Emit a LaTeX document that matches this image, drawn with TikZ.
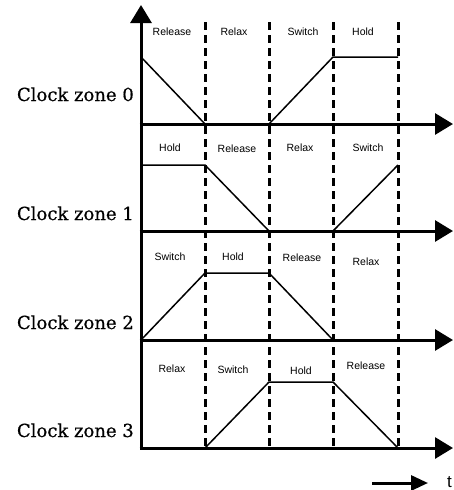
\documentclass[tikz,border=0pt]{standalone}
\usepackage{fontspec}
\setmainfont{DejaVu Serif}
\newfontfamily\lblfont{Liberation Sans}
\newfontfamily\zonefont{DejaVu Serif}[FakeBold=0.6]
\usetikzlibrary{arrows.meta}
\begin{document}
\begin{tikzpicture}[x=1pt,y=-1pt,
  axis/.style={line width=3pt,-{Triangle[length=18pt,width=21pt]}},
  divider/.style={line width=3pt,dash pattern=on 8pt off 5pt},
  signal/.style={line width=1.5pt,line join=miter},
  phase/.style={font=\lblfont\fontsize{10.5}{12}\selectfont,inner sep=0pt},
  zone/.style={font=\zonefont\fontsize{18}{20}\selectfont,anchor=base east,inner sep=0pt}]
\useasboundingbox (0,0) rectangle (453,490);
% dividers
\foreach \x [count=\i] in {205,269,333,398}{
  \coordinate (d\i t) at (\x,22);
  \coordinate (d\i b) at (\x,448);
  \draw[divider] (d\i t) -- (d\i b);
}
% axes
\coordinate (o) at (141,449.5);
\coordinate (ytip) at (141,5);
\draw[axis] (o) -- (ytip);
\foreach \y [count=\i from 0] in {124,231,340,448}{
  \coordinate (a\i l) at (139.5,\y);
  \coordinate (a\i r) at (453,\y);
  \draw[axis] (a\i l) -- (a\i r);
}
% signals
\coordinate (s0a) at (141,57);  \coordinate (s0b) at (205,124); \coordinate (s0c) at (269,124);
\coordinate (s0d) at (333,57);  \coordinate (s0e) at (398,57);
\draw[signal] (s0a) -- (s0b) -- (s0c) -- (s0d) -- (s0e);
\coordinate (s1a) at (141,165); \coordinate (s1b) at (205,165); \coordinate (s1c) at (269,231);
\coordinate (s1d) at (333,231); \coordinate (s1e) at (398,165);
\draw[signal] (s1a) -- (s1b) -- (s1c) -- (s1d) -- (s1e);
\coordinate (s2a) at (141,340); \coordinate (s2b) at (205,273); \coordinate (s2c) at (269,273);
\coordinate (s2d) at (333,340);
\draw[signal] (s2a) -- (s2b) -- (s2c) -- (s2d);
\coordinate (s3a) at (205,448); \coordinate (s3b) at (269,382); \coordinate (s3c) at (333,382);
\coordinate (s3d) at (398,448);
\draw[signal] (s3a) -- (s3b) -- (s3c) -- (s3d);
% phase labels
\node[phase] (p00) at (172,32) {Release};
\node[phase] (p01) at (234,32) {Relax};
\node[phase] (p02) at (303,32) {Switch};
\node[phase] (p03) at (363,32) {Hold};
\node[phase] (p10) at (170,148) {Hold};
\node[phase] (p11) at (237,149) {Release};
\node[phase] (p12) at (300,148) {Relax};
\node[phase] (p13) at (368,148) {Switch};
\node[phase] (p20) at (170,257) {Switch};
\node[phase] (p21) at (233,257) {Hold};
\node[phase] (p22) at (302,258) {Release};
\node[phase] (p23) at (366,262) {Relax};
\node[phase] (p30) at (172,369) {Relax};
\node[phase] (p31) at (233,370) {Switch};
\node[phase] (p32) at (301,371) {Hold};
\node[phase] (p33) at (366,366) {Release};
% zone labels
\node[zone] (z0) at (134,101) {Clock zone 0};
\node[zone] (z1) at (134,220) {Clock zone 1};
\node[zone] (z2) at (134,329) {Clock zone 2};
\node[zone] (z3) at (134,437) {Clock zone 3};
% time arrow
\node[font=\lblfont\fontsize{17}{18}\selectfont,anchor=base east,inner sep=0pt] (t) at (452,487) {t};
\coordinate (ta) at (372,483);
\coordinate (tb) at (428,483);
\draw[line width=3pt,-{Triangle[length=17pt,width=15pt]}] (ta) -- (tb);
\end{tikzpicture}
\end{document}
